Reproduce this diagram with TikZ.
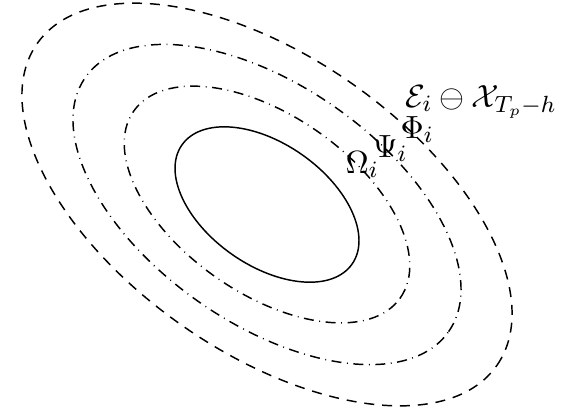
\documentclass[tikz,border=0pt]{standalone}
\usepackage{amssymb}
\usepackage{tikz}
\usetikzlibrary{positioning}

\begin{document}
\begin{tikzpicture}[
    scale=0.012,
    setline/.style ={line width=0.5pt, rotate=-35},
    dashset/.style ={setline, dash pattern=on 3.4pt off 2.7pt},
    dotset/.style  ={setline, dash pattern=on 3.4pt off 1.9pt on 0.3pt off 1.9pt},
    setlabel/.style={inner sep=0pt, anchor=base west,
                     font=\fontsize{11pt}{13pt}\selectfont}
]
\useasboundingbox (-267,-209.5) rectangle (304,204.5);
\coordinate (c) at (0,0);

%% --- nested sets, all rotated round the same centre ---
\draw[setline] (c) ellipse [x radius=104, y radius=61];
\draw[dotset]  (c) ellipse [x radius=163, y radius=89];
\draw[dotset]  (c) ellipse [x radius=222, y radius=119];
\draw[dashset] (c) ellipse [x radius=281, y radius=148];

%% --- labels along the upper right rim ---
\node[setlabel] (omega) at (78,31.5)  {$\Omega_i$};
\node[setlabel] (psi)   at (105,47.5) {$\Psi_i$};
\node[setlabel] (phi)   at (133,66.5) {$\Phi_i$};
\node[setlabel] (eps)   at (138,97.5) {$\mathcal{E}_i \ominus \mathcal{X}_{T_p-h}$};
\end{tikzpicture}
\end{document}
